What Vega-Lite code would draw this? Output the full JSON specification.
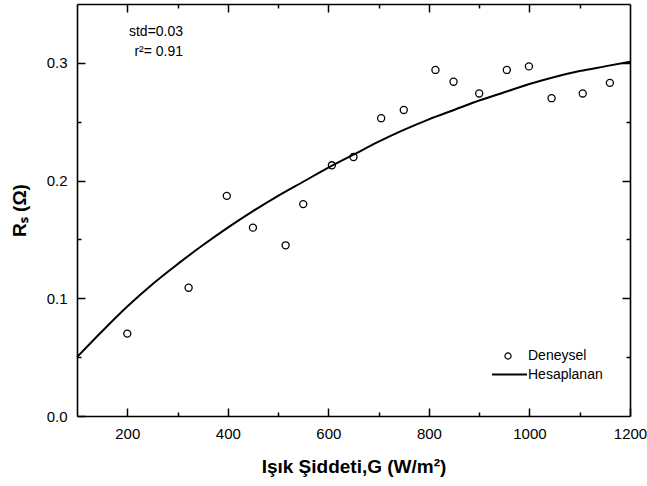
{
  "$schema": "https://vega.github.io/schema/vega-lite/v6.json",
  "width": 553,
  "height": 412,
  "autosize": {"type": "none"},
  "padding": {"left": 77, "top": 4, "right": 17, "bottom": 70},
  "background": "white",
  "config": {
    "view": {"stroke": null},
    "font": "Liberation Sans",
    "axis": {
      "domainColor": "black",
      "domainWidth": 1.6,
      "tickColor": "black",
      "tickWidth": 1.5,
      "grid": false,
      "labelFont": "Liberation Sans",
      "labelFontSize": 15,
      "labelColor": "black",
      "titleFont": "Liberation Sans",
      "titleFontSize": 19,
      "titleFontWeight": "bold",
      "titleColor": "black"
    },
    "legend": {
      "labelFont": "Liberation Sans",
      "labelFontSize": 14,
      "labelColor": "black",
      "padding": 0
    }
  },
  "datasets": {
    "exp": [
      {"G": 200, "Rs": 0.070},
      {"G": 322, "Rs": 0.109},
      {"G": 398, "Rs": 0.187},
      {"G": 450, "Rs": 0.160},
      {"G": 515, "Rs": 0.145},
      {"G": 550, "Rs": 0.180},
      {"G": 607, "Rs": 0.213},
      {"G": 650, "Rs": 0.220},
      {"G": 705, "Rs": 0.253},
      {"G": 750, "Rs": 0.260},
      {"G": 813, "Rs": 0.294},
      {"G": 849, "Rs": 0.284},
      {"G": 900, "Rs": 0.274},
      {"G": 955, "Rs": 0.294},
      {"G": 999, "Rs": 0.297},
      {"G": 1044, "Rs": 0.270},
      {"G": 1106, "Rs": 0.274},
      {"G": 1160, "Rs": 0.283}
    ],
    "calc": [
      {"G": 100, "Rs": 0.050},
      {"G": 150, "Rs": 0.072},
      {"G": 200, "Rs": 0.093},
      {"G": 250, "Rs": 0.112},
      {"G": 300, "Rs": 0.129},
      {"G": 350, "Rs": 0.145},
      {"G": 400, "Rs": 0.160},
      {"G": 450, "Rs": 0.174},
      {"G": 500, "Rs": 0.187},
      {"G": 550, "Rs": 0.199},
      {"G": 600, "Rs": 0.211},
      {"G": 650, "Rs": 0.222},
      {"G": 700, "Rs": 0.233},
      {"G": 750, "Rs": 0.243},
      {"G": 800, "Rs": 0.252},
      {"G": 850, "Rs": 0.260},
      {"G": 900, "Rs": 0.268},
      {"G": 950, "Rs": 0.275},
      {"G": 1000, "Rs": 0.282},
      {"G": 1050, "Rs": 0.288},
      {"G": 1100, "Rs": 0.293},
      {"G": 1150, "Rs": 0.297},
      {"G": 1200, "Rs": 0.301}
    ],
    "notes": [
      {"G": 311, "Rs": 0.3262, "label": "std=0.03"},
      {"G": 311, "Rs": 0.3088, "label": "r²= 0.91"}
    ]
  },
  "layer": [
    {
      "data": {"name": "calc"},
      "mark": {"type": "line", "strokeWidth": 2, "interpolate": "monotone"},
      "encoding": {
        "x": {
          "field": "G", "type": "quantitative",
          "scale": {"domain": [100, 1200], "nice": false, "zero": false},
          "axis": {
            "orient": "top", "title": null, "labels": false,
            "values": [200, 300, 400, 500, 600, 700, 800, 900, 1000, 1100],
            "tickSize": {"condition": {"test": "datum.value % 200 === 0", "value": -8}, "value": -4}
          }
        },
        "y": {
          "field": "Rs", "type": "quantitative",
          "scale": {"domain": [0, 0.35], "nice": false, "zero": false},
          "axis": {
            "orient": "right", "title": null, "labels": false,
            "values": [0.05, 0.1, 0.15, 0.2, 0.25, 0.3],
            "tickSize": {"condition": {"test": "round(datum.value * 100) % 10 === 0", "value": -8}, "value": -4}
          }
        },
        "stroke": {
          "datum": "Hesaplanan",
          "scale": {"range": ["black"]},
          "legend": {
            "title": null,
            "orient": "none",
            "legendX": 414,
            "legendY": 352,
            "symbolType": "stroke",
            "symbolSize": 1225,
            "symbolStrokeWidth": 2,
            "symbolStrokeColor": "black",
            "labelOffset": 0
          }
        }
      }
    },
    {
      "data": {"name": "exp"},
      "mark": {"type": "point", "shape": "circle", "size": 50, "strokeWidth": 1.3, "color": "black", "filled": false, "opacity": 1},
      "encoding": {
        "x": {
          "field": "G", "type": "quantitative",
          "scale": {"domain": [100, 1200], "nice": false, "zero": false},
          "axis": {
            "orient": "bottom",
            "title": "Işık Şiddeti,G (W/m²)",
            "values": [200, 300, 400, 500, 600, 700, 800, 900, 1000, 1100, 1200],
            "format": "d",
            "labelExpr": "datum.value % 200 === 0 ? datum.label : ''",
            "tickSize": {"condition": {"test": "datum.value % 200 === 0", "value": -8}, "value": -4},
            "labelPadding": 18,
            "labelFlush": false,
            "titlePadding": 16
          }
        },
        "y": {
          "field": "Rs", "type": "quantitative",
          "scale": {"domain": [0, 0.35], "nice": false, "zero": false},
          "axis": {
            "orient": "left",
            "title": "Rₛ (Ω)",
            "values": [0, 0.05, 0.1, 0.15, 0.2, 0.25, 0.3],
            "format": ".1f",
            "labelExpr": "round(datum.value * 100) % 10 === 0 ? datum.label : ''",
            "tickSize": {"condition": {"test": "round(datum.value * 100) % 10 === 0", "value": -8}, "value": -4},
            "labelPadding": 18,
            "labelFlush": false,
            "titlePadding": 17
          }
        },
        "shape": {
          "datum": "Deneysel",
          "scale": {"range": ["circle"]},
          "legend": {
            "title": null,
            "orient": "none",
            "legendX": 424,
            "legendY": 345,
            "symbolSize": 38,
            "symbolStrokeColor": "black",
            "symbolStrokeWidth": 1.2,
            "symbolFillColor": "white",
            "labelOffset": 13
          }
        }
      }
    },
    {
      "data": {"name": "notes"},
      "mark": {"type": "text", "align": "right", "baseline": "middle", "font": "Liberation Sans", "fontSize": 14, "color": "black"},
      "encoding": {
        "x": {"field": "G", "type": "quantitative", "axis": null},
        "y": {"field": "Rs", "type": "quantitative", "axis": null},
        "text": {"field": "label"}
      }
    }
  ],
  "resolve": {"axis": {"x": "independent", "y": "independent"}}
}
